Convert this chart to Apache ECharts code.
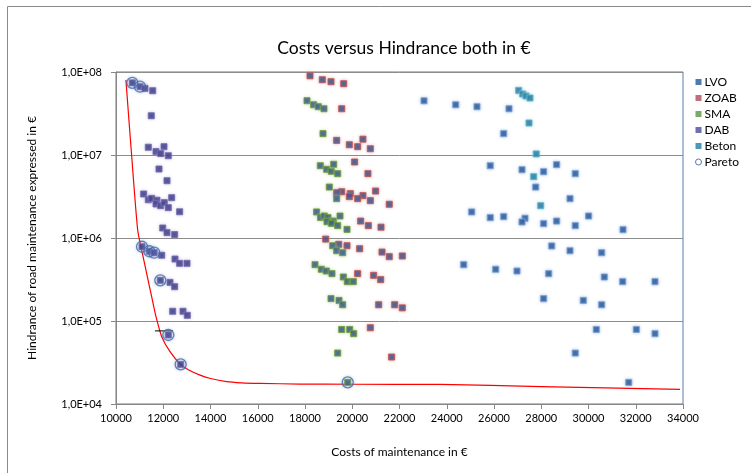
<!DOCTYPE html>
<html>
<head>
<meta charset="utf-8">
<script src="https://cdn.jsdelivr.net/npm/echarts@6/dist/echarts.min.js"></script>
<style>
html,body{margin:0;padding:0;background:#fff;}
#c{width:751px;height:473px;}
</style>
</head>
<body>
<div id="c"></div>
<script>
// ---- data (cost in €, hindrance in €) ----
const lvoCost = [23038,24379,25280,26635,26410,25841,27186,28100,28650,29440,27764,29217,25055,25841,26410,27313,27186,28100,28650,29440,30005,31461,28443,29217,30557,24717,26071,26973,28315,30669,31447,32815,28100,29780,30557,30331,32025,32815,29440,31703];
const lvoHind = [4.5e7,4.03e7,3.82e7,3.61e7,1.81e7,7.43e6,6.65e6,6.29e6,7.66e6,5.96e6,4.11e6,2.98e6,2.06e6,1.76e6,1.81e6,1.73e6,1.56e6,1.49e6,1.60e6,1.41e6,1.84e6,1.26e6,8.02e5,7.03e5,6.65e5,4.77e5,4.20e5,4.0e5,3.72e5,3.39e5,2.98e5,2.98e5,1.86e5,1.77e5,1.57e5,7.9e4,7.9e4,7.04e4,4.11e4,1.82e4];

const zoabCost = [18212,18733,19101,19638,19553,19341,19877,20452,20229,20765,20101,20664,19553,19341,19919,19877,20452,20229,20989,20765,21567,20356,20680,21218,18876,19426,19778,20313,21260,21567,22119,20229,20906,21203,21119,21796,22119,20765,21667];
const zoabHind = [9.0e7,8.07e7,7.64e7,7.23e7,3.61e7,1.50e7,1.33e7,1.55e7,1.26e7,1.19e7,8.24e6,5.96e6,3.61e6,3.51e6,3.42e6,3.15e6,3.24e6,2.98e6,3.68e6,2.82e6,2.55e6,1.60e6,1.41e6,1.35e6,9.7e5,8.39e5,8.07e5,7.43e5,6.77e5,5.96e5,6.07e5,3.72e5,3.55e5,3.15e5,1.57e5,1.57e5,1.44e5,8.3e4,3.68e4];

const smaCost = [18085,18365,18563,18804,18762,18649,18918,19114,19214,19383,19030,19341,18491,18660,18818,18974,19199,18932,19129,19383,19482,19778,19171,19341,19595,18424,18691,18903,19143,19623,19792,20046,19101,19440,19595,19553,19892,20060,19383,19808];
const smaHind = [4.51e7,4.03e7,3.82e7,3.61e7,1.81e7,7.43e6,6.72e6,6.36e6,7.73e6,5.96e6,4.11e6,2.98e6,2.06e6,1.77e6,1.84e6,1.76e6,1.60e6,1.57e6,1.50e6,1.41e6,1.84e6,1.27e6,8.07e5,7.03e5,6.65e5,4.77e5,4.20e5,4.0e5,3.72e5,3.39e5,2.98e5,2.98e5,1.86e5,1.77e5,1.57e5,7.9e4,7.9e4,7.04e4,4.11e4,1.82e4];

const dabCost = [10690,11016,11228,11553,11494,11368,12032,11693,11892,12214,11820,12159,11171,11368,11511,11735,11693,11892,12045,12214,12356,12694,11977,12159,12483,11101,11410,11617,11935,12498,12694,13005,11876,12286,12483,12399,12836,13018,12214,12737];
const dabHind = [7.4e7,6.65e7,6.35e7,5.95e7,2.97e7,1.24e7,1.26e7,1.10e7,1.04e7,9.8e6,6.78e6,4.9e6,3.39e6,2.89e6,3.0e6,2.85e6,2.57e6,2.45e6,2.67e6,2.32e6,3.06e6,2.07e6,1.32e6,1.16e6,1.10e6,7.85e5,6.92e5,6.65e5,6.2e5,5.58e5,4.95e5,4.95e5,3.09e5,2.92e5,2.59e5,1.31e5,1.31e5,1.17e5,6.78e4,3.0e4];

const betonCost = [27045,27214,27355,27524,27482,27789,27680,27976];
const betonHind = [6.0e7,5.43e7,5.14e7,4.86e7,2.43e7,1.03e7,5.48e6,2.45e6];

const paretoCost = [10690,11016,11101,11410,11617,11876,12214,12737,19808];
const paretoHind = [7.4e7,6.65e7,7.85e5,6.92e5,6.65e5,3.09e5,6.78e4,3.0e4,1.82e4];

// red fitted curve
const curveCost = [10420,10660,10918,11087,11297,11509,11693,11935,12286,12737,13100,13556,14000,14685,15300,16096,17789,20000,23716,28000,33874];
const curveHind = [8.0e7,1.0e7,1.25e6,7.16e5,3.76e5,1.96e5,1.13e5,6.47e4,4.28e4,3.0e4,2.55e4,2.23e4,2.03e4,1.86e4,1.80e4,1.77e4,1.74e4,1.73e4,1.72e4,1.62e4,1.50e4];

// short black horizontal marker
const markCost = [11651,12413];
const markHind = [7.6e4,7.6e4];

const xTicks = {min:10000, max:34000, step:2000};
const yTicks = {min:1e4, max:1e8};

function pairs(xs, ys){ return xs.map((x,i)=>[x, ys[i]]); }

const FONT = 'Lato, "Open Sans", sans-serif';

function sq(name, xs, ys, fill, border, glow){
  return {
    name, type:'scatter', symbol:'rect', symbolSize:6,
    data: pairs(xs, ys),
    itemStyle:{color:fill, borderColor:border, borderWidth:1, shadowColor:glow, shadowBlur:3},
    z:3
  };
}

const chart = echarts.init(document.getElementById('c'), null, {renderer:'canvas'});
chart.setOption({
  animation:false,
  backgroundColor:'#ffffff',
  title:{
    text:'Costs versus Hindrance both in €',
    left:399, top:34, textAlign:'center',
    textStyle:{fontFamily:FONT, fontSize:17.5, fontWeight:'normal', color:'#000'}
  },
  graphic:[{
    type:'rect', shape:{x:7.5, y:6.5, width:760, height:490},
    style:{fill:'none', stroke:'#8a8a8a', lineWidth:1}, silent:true
  }],
  legend:{
    orient:'vertical', left:690, top:71,
    itemWidth:6, itemHeight:6, itemGap:4,
    textStyle:{fontFamily:FONT, fontSize:12, color:'#000', lineHeight:12, padding:[0,0,0,-2]},
    data:[
      {name:'LVO', icon:'rect', itemStyle:{color:'#1f5aa0', borderWidth:0, shadowBlur:0}},
      {name:'ZOAB', icon:'rect', itemStyle:{color:'#b04a58', borderWidth:0, shadowBlur:0}},
      {name:'SMA', icon:'rect', itemStyle:{color:'#5f9140', borderWidth:0, shadowBlur:0}},
      {name:'DAB', icon:'rect', itemStyle:{color:'#4a4a9c', borderWidth:0, shadowBlur:0}},
      {name:'Beton', icon:'rect', itemStyle:{color:'#217ea6', borderWidth:0, shadowBlur:0}},
      {name:'Pareto', icon:'circle', itemStyle:{color:'#ffffff', borderColor:'#2f5b96', borderWidth:1, shadowBlur:0}}
    ]
  },
  grid:{left:116, top:72, width:567, height:332, show:true, borderColor:'#5a7db2', borderWidth:1, containLabel:false},
  xAxis:{
    type:'value', min:xTicks.min, max:xTicks.max, interval:xTicks.step,
    name:'Costs of maintenance in €', nameLocation:'middle', nameGap:42,
    nameTextStyle:{fontFamily:FONT, fontSize:12, color:'#000'},
    axisLine:{show:true, lineStyle:{color:'#868686', width:1}},
    axisTick:{show:true, length:5, lineStyle:{color:'#868686'}},
    axisLabel:{fontFamily:FONT, fontSize:11, color:'#000', margin:9, formatter:function(v){ return String(v); }},
    splitLine:{show:false}
  },
  yAxis:{
    type:'log', logBase:10, min:yTicks.min, max:yTicks.max,
    name:'Hindrance of road maintenance expressed in €', nameLocation:'middle', nameGap:78,
    nameTextStyle:{fontFamily:FONT, fontSize:12, color:'#000'},
    axisLine:{show:true, lineStyle:{color:'#868686', width:1}},
    axisTick:{show:true, length:5, lineStyle:{color:'#868686'}},
    axisLabel:{fontFamily:FONT, fontSize:11, color:'#000', margin:14,
      formatter:function(v){ const e=Math.round(Math.log10(v)); return '1,0E+' + (e<10?'0':'') + e; }},
    splitLine:{show:true, lineStyle:{color:'#8c8c8c', width:1}},
    minorTick:{show:false}
  },
  series:[
    {name:'curve', type:'line', data:pairs(curveCost, curveHind), symbol:'none',
     smooth:0.25, lineStyle:{color:'#ff0000', width:1.2}, z:2, silent:true},
    {name:'mark', type:'line', data:pairs(markCost, markHind), symbol:'none',
     lineStyle:{color:'#000000', width:1}, z:2, silent:true},
    sq('LVO', lvoCost, lvoHind, '#1f4f8f', '#7fa3d4', 'rgba(120,160,220,0.7)'),
    sq('ZOAB', zoabCost, zoabHind, '#23488a', '#c0504d', 'rgba(220,130,130,0.7)'),
    sq('SMA', smaCost, smaHind, '#23488a', '#6f9a3a', 'rgba(160,200,110,0.7)'),
    sq('DAB', dabCost, dabHind, '#28327a', '#7467ad', 'rgba(170,150,215,0.6)'),
    sq('Beton', betonCost, betonHind, '#1f6f96', '#5fb4cc', 'rgba(120,200,220,0.7)'),
    {name:'Pareto', type:'scatter', symbol:'circle', symbolSize:11, data:pairs(paretoCost, paretoHind),
     itemStyle:{color:'rgba(0,0,0,0)', borderColor:'#3e68a8', borderWidth:1.3, shadowColor:'rgba(100,140,200,0.7)', shadowBlur:3},
     z:4}
  ]
});
</script>
</body>
</html>
